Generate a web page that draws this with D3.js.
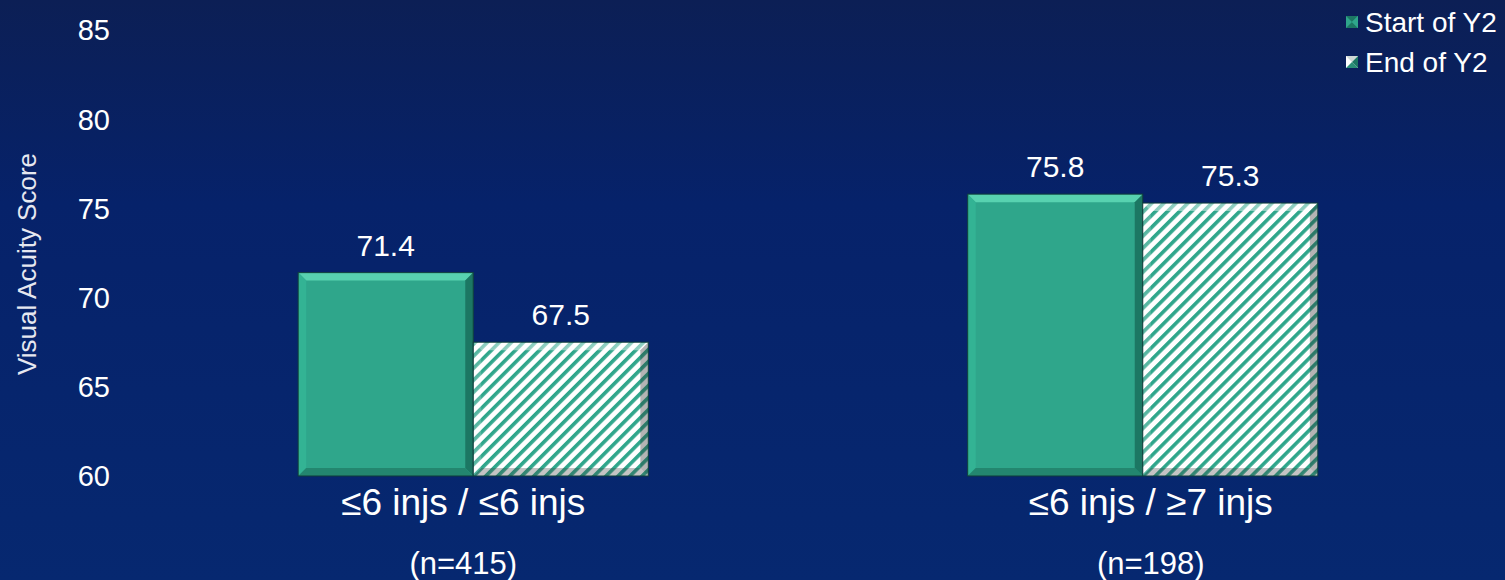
<!DOCTYPE html>
<html>
<head>
<meta charset="utf-8">
<script src="https://cdn.jsdelivr.net/npm/d3@7"></script>
<style>
  html, body { margin: 0; padding: 0; background: #0a2466; }
  svg { display: block; font-family: Arial, "Liberation Sans", sans-serif; }
</style>
</head>
<body>
<div id="chart"></div>
<script>
// chart data
var categories = ["\u22646 injs / \u22646 injs", "\u22646 injs / \u22657 injs"];
var counts = ["(n=415)", "(n=198)"];
var seriesNames = ["Start of Y2", "End of Y2"];
var startValues = [71.4, 75.8];
var endValues = [67.5, 75.3];
var yTicks = [60, 65, 70, 75, 80, 85];

var W = 1505, H = 580;
var teal = "#2fa68b";

var svg = d3.select("#chart").append("svg")
    .attr("width", W)
    .attr("height", H);

var defs = svg.append("defs");

// background gradient
var bg = defs.append("linearGradient").attr("id", "bg")
    .attr("x1", 0).attr("y1", 0).attr("x2", 0).attr("y2", 1);
bg.append("stop").attr("offset", "0%").attr("stop-color", "#0c1f55");
bg.append("stop").attr("offset", "35%").attr("stop-color", "#06226a");
bg.append("stop").attr("offset", "100%").attr("stop-color", "#062870");

svg.append("rect").attr("width", W).attr("height", H).attr("fill", "url(#bg)");

// hatch pattern for "End of Y2"
var hatch = defs.append("pattern").attr("id", "hatch")
    .attr("patternUnits", "userSpaceOnUse")
    .attr("width", 8.5).attr("height", 8.5)
    .attr("patternTransform", "rotate(45)");
hatch.append("rect").attr("width", 8.5).attr("height", 8.5).attr("fill", "#ffffff");
hatch.append("rect").attr("x", 0).attr("width", 3.6).attr("height", 8.5).attr("fill", teal);

var y = d3.scaleLinear().domain([60, 85]).range([476, 30]);

var x0 = d3.scaleBand()
    .domain(categories)
    .range([138.5, 1477.5])
    .paddingInner(0.477)
    .paddingOuter(0.2385);

var x1 = d3.scaleBand()
    .domain(seriesNames)
    .range([0, x0.bandwidth()]);

// labels under the groups sit a bit apart from the bar centres
var labelShift = [-10, 8];

// y axis labels
svg.append("g").selectAll("text")
    .data(yTicks)
    .join("text")
    .attr("x", 110)
    .attr("y", function (d) { return y(d); })
    .attr("dy", "0.36em")
    .attr("text-anchor", "end")
    .attr("fill", "#ffffff")
    .attr("font-size", "29px")
    .text(function (d) { return d; });

svg.append("text")
    .attr("transform", "translate(36," + 264 + ") rotate(-90)")
    .attr("text-anchor", "middle")
    .attr("fill", "#e6e8f0")
    .attr("font-size", "26px")
    .text("Visual Acuity Score");

// bevel drawing for a bar
function bevel(g, x, yTop, w, h, hatched) {
    var b = 8;
    g.append("rect")
        .attr("x", x).attr("y", yTop).attr("width", w).attr("height", h)
        .attr("fill", hatched ? "url(#hatch)" : teal);
    var faces = [
        {pts: [[x, yTop], [x + w, yTop], [x + w - b, yTop + b], [x + b, yTop + b]],
            col: hatched ? "rgba(255,255,255,0.45)" : "#58d2b0"},
        {pts: [[x, yTop], [x + b, yTop + b], [x + b, yTop + h - b], [x, yTop + h]],
            col: hatched ? "rgba(255,255,255,0.2)" : "#33b394"},
        {pts: [[x + w, yTop], [x + w, yTop + h], [x + w - b, yTop + h - b], [x + w - b, yTop + b]],
            col: hatched ? "rgba(40,40,40,0.35)" : "#1c7763"},
        {pts: [[x, yTop + h], [x + b, yTop + h - b], [x + w - b, yTop + h - b], [x + w, yTop + h]],
            col: hatched ? "rgba(60,60,60,0.3)" : "#23866f"}
    ];
    g.selectAll("polygon")
        .data(faces)
        .join("polygon")
        .attr("points", function (d) { return d.pts.map(function (p) { return p.join(","); }).join(" "); })
        .attr("fill", function (d) { return d.col; });
    g.append("rect")
        .attr("x", x).attr("y", yTop).attr("width", w).attr("height", h)
        .attr("fill", "none")
        .attr("stroke", "#0e3d3a").attr("stroke-width", 1);
}

var rows = categories.map(function (c, i) {
    return [
        {cat: c, s: seriesNames[0], v: startValues[i]},
        {cat: c, s: seriesNames[1], v: endValues[i]}
    ];
});

var groups = svg.append("g").selectAll("g")
    .data(rows)
    .join("g")
    .attr("transform", function (d) { return "translate(" + x0(d[0].cat) + ",0)"; });

groups.each(function (d) {
    var g = d3.select(this);
    d.forEach(function (e, j) {
        var bx = x1(e.s);
        var top = y(e.v);
        bevel(g.append("g"), bx, top, x1.bandwidth(), y(60) - top, j === 1);
        g.append("text")
            .attr("x", bx + x1.bandwidth() / 2)
            .attr("y", top - 17)
            .attr("text-anchor", "middle")
            .attr("fill", "#ffffff")
            .attr("font-size", "30px")
            .text(e.v.toFixed(1));
    });
});

// category labels
svg.append("g").selectAll("text")
    .data(categories)
    .join("text")
    .attr("x", function (d, i) { return x0(d) + x0.bandwidth() / 2 + labelShift[i]; })
    .attr("y", 515)
    .attr("text-anchor", "middle")
    .attr("fill", "#ffffff")
    .attr("font-size", "37px")
    .text(function (d) { return d; });

svg.append("g").selectAll("text")
    .data(counts)
    .join("text")
    .attr("x", function (d, i) { return x0(categories[i]) + x0.bandwidth() / 2 + labelShift[i]; })
    .attr("y", 574)
    .attr("text-anchor", "middle")
    .attr("fill", "#ffffff")
    .attr("font-size", "31px")
    .text(function (d) { return d; });

// legend
var legend = svg.append("g").selectAll("g")
    .data(seriesNames)
    .join("g")
    .attr("transform", function (d, i) { return "translate(1346," + (22 + i * 40) + ")"; });

legend.each(function (d, i) {
    var g = d3.select(this);
    var s = 12, x = 0, t = -s / 2;
    g.append("rect").attr("x", x).attr("y", t).attr("width", s).attr("height", s)
        .attr("fill", i === 0 ? teal : "#ffffff");
    g.append("polygon")
        .attr("points", [[x, t], [x + s, t], [x + s / 2, t + s / 2]].join(" "))
        .attr("fill", i === 0 ? "#1c7763" : "#cfd8d5");
    g.append("polygon")
        .attr("points", [[x, t + s], [x + s, t + s], [x + s / 2, t + s / 2]].join(" "))
        .attr("fill", i === 0 ? "#1c7763" : "#2a8f77");
    g.append("polygon")
        .attr("points", [[x + s, t], [x + s, t + s], [x + s / 2, t + s / 2]].join(" "))
        .attr("fill", i === 0 ? "#2fa68b" : "#1c7763");
    g.append("text")
        .attr("x", 19)
        .attr("y", 0)
        .attr("dy", "0.36em")
        .attr("fill", "#ffffff")
        .attr("font-size", "28px")
        .text(d);
});
</script>
</body>
</html>
